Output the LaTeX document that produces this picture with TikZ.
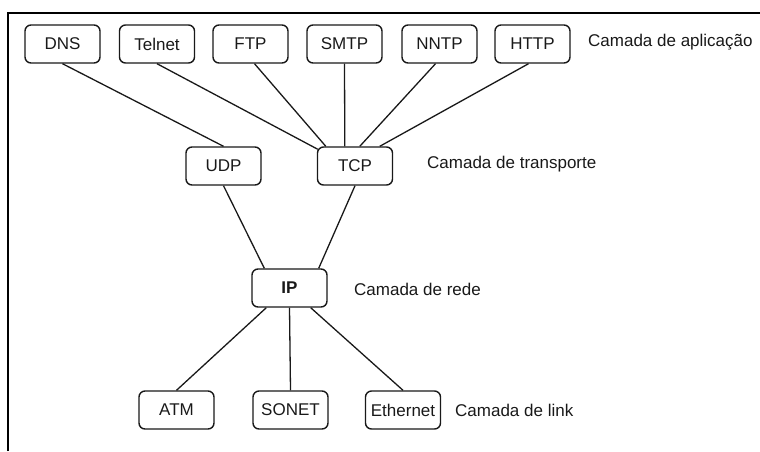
\documentclass[tikz,border=0pt]{standalone}
\usepackage{fontspec}
\setmainfont{Liberation Sans}
\usetikzlibrary{calc}
\begin{document}
\begin{tikzpicture}[x=1pt,y=-1pt,
  proto/.style={draw=black!90, line width=1.4pt, rounded corners=6pt,
    minimum width=75pt, minimum height=38pt, inner sep=0pt,
    font=\fontsize{17}{20}\selectfont, text=black!90},
  layer/.style={anchor=west, inner sep=0pt,
    font=\fontsize{17}{20}\selectfont, text=black!90},
  link/.style={draw=black!90, line width=1.3pt}]
\useasboundingbox (0,0) rectangle (760,451);
% frame edges
\draw[line width=2.4pt] (8,451) -- (8,13) -- (760,13);

% application layer
\node[proto] (dns)    at (62.5,44)  {DNS};
\node[proto] (telnet) at (157,44)   {Telnet};
\node[proto] (ftp)    at (250.5,44) {FTP};
\node[proto] (smtp)   at (344.5,44) {SMTP};
\node[proto] (nntp)   at (439.5,44) {NNTP};
\node[proto] (http)   at (532.5,44) {HTTP};
\node[layer] (lapp) at (588,42) {Camada de aplicação};

% transport layer
\node[proto] (udp) at (223.5,166) {UDP};
\node[proto] (tcp) at (355,166)   {TCP};
\node[layer] (ltr) at (427,164) {Camada de transporte};

% network layer
\node[proto] (ip) at (289.5,288) {\textbf{IP}};
\node[layer] (lnet) at (354,289) {Camada de rede};

% link layer
\node[proto] (atm)   at (176.5,410) {ATM};
\node[proto] (sonet) at (290.5,410) {SONET};
\node[proto] (eth)   at (403,410)   {Ethernet};
\node[layer] (llink) at (455,410) {Camada de link};

% connectors
\draw[link] (dns.south) -- (udp.north);
\draw[link] (telnet.south) -- ($(tcp.north west)+(1,3)$);
\draw[link] ($(ftp.south)+(4,0)$) -- ($(tcp.north west)+(9,0)$);
\draw[link] (smtp.south) -- ($(tcp.north west)+(28,0)$);
\draw[link] ($(nntp.south)+(-4,0)$) -- ($(tcp.north west)+(43,0)$);
\draw[link] ($(http.south)+(-4,0)$) -- ($(tcp.north west)+(63,0)$);

\draw[link] (udp.south) -- ($(ip.north west)+(13,0)$);
\draw[link] (tcp.south) -- ($(ip.north east)+(-9,0)$);

\draw[link] ($(ip.south west)+(15,0)$) -- (atm.north);
\draw[link] (ip.south) -- (sonet.north);
\draw[link] ($(ip.south east)+(-17,0)$) -- (eth.north);
\end{tikzpicture}
\end{document}
